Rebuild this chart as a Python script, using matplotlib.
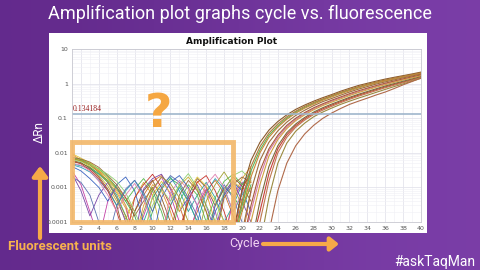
import matplotlib
matplotlib.use("Agg")
import matplotlib.pyplot as plt
from matplotlib.patches import Rectangle
from matplotlib.colors import LinearSegmentedColormap
import numpy as np

# cycles for the two groups of traces
base_cycles = list(range(1, 22))
amp_cycles = list(range(18, 41))

# baseline noise per well, cycles 1-21, in units of 1e-4 dRn (0.3 = below the axis)
noise = [
    [90, 62, 45, 28, 15, 7, 2.5, 0.3, 3, 12, 8, 2, 0.3, 4, 15, 7, 1, 0.3, 5, 18, 40],
    [70, 58, 40, 22, 11, 4, 1.2, 5, 14, 6, 0.5, 3, 11, 20, 9, 2, 0.3, 6, 15, 9, 25],
    [55, 50, 38, 25, 16, 9, 4, 1.5, 0.3, 2, 9, 18, 12, 4, 1, 0.3, 3, 10, 6, 2, 12],
    [65, 60, 48, 30, 18, 10, 5, 2, 6, 15, 22, 10, 3, 0.5, 2, 8, 16, 7, 1.5, 0.3, 8],
    [48, 42, 35, 24, 14, 6, 1.5, 0.3, 1, 5, 12, 20, 8, 2, 6, 14, 5, 1, 3, 12, 30],
    [60, 52, 36, 20, 9, 3, 0.3, 2, 8, 16, 5, 1, 0.3, 6, 18, 10, 3, 9, 20, 11, 4],
    [30, 12, 2, 0.3, 4, 10, 3, 0.3, 1.5, 8, 20, 6, 1, 0.3, 3, 9, 2, 0.3, 4, 14, 7],
    [25, 8, 1.5, 6, 14, 5, 1, 0.3, 9, 18, 24, 9, 2, 5, 12, 3, 0.5, 7, 16, 4, 1],
    [40, 30, 18, 10, 4, 12, 20, 8, 1, 0.3, 5, 14, 22, 10, 3, 0.3, 2, 6, 14, 8, 2],
    [72, 64, 50, 34, 20, 10, 4, 9, 18, 8, 2, 0.3, 4, 12, 6, 1, 5, 15, 24, 12, 20],
    [95, 70, 52, 32, 18, 8, 3, 1, 0.3, 6, 15, 7, 2, 8, 20, 11, 4, 1, 0.3, 4, 15],
    [45, 38, 28, 16, 8, 3, 8, 16, 6, 1, 0.3, 3, 10, 4, 1, 7, 18, 9, 2, 6, 18],
    [58, 48, 32, 18, 8, 2, 0.3, 5, 12, 24, 10, 3, 0.6, 4, 14, 22, 8, 2, 0.3, 9, 28],
    [75, 66, 54, 38, 22, 12, 5, 1.5, 4, 10, 3, 0.5, 6, 16, 8, 2, 0.3, 5, 12, 20, 14],
    [62, 56, 46, 34, 24, 15, 7, 2, 0.5, 3, 9, 4, 12, 25, 10, 3, 1, 8, 22, 30, 16],
    [20, 14, 6, 1, 0.3, 3, 9, 16, 7, 2, 10, 22, 14, 5, 1.5, 0.3, 3, 12, 5, 1, 0.3],
    [50, 44, 30, 15, 6, 2, 6, 13, 5, 0.8, 0.3, 7, 16, 9, 3, 12, 24, 10, 2, 7, 20],
    [68, 60, 44, 27, 14, 5, 1.5, 0.3, 2, 9, 20, 13, 5, 1, 0.3, 4, 12, 28, 11, 3, 10],
]
noise_colors = ["#e39a2d", "#c9b22c", "#3fae4a", "#d06a2a", "#2fa3a0", "#8a5a2c",
                "#c23fa6", "#7a44a8", "#3a64c0", "#56b84a", "#e0c43a", "#2c9fb8",
                "#c8332c", "#9a6a34", "#8fd070", "#5a6fb0", "#e080b0", "#a0a030"]

# amplification traces, cycles 18-40 (first three are the coloured ones underneath)
amp = [
    [0.00002, 0.00002, 0.0003, 0.003, 0.012, 0.032, 0.06, 0.1, 0.15, 0.205, 0.27, 0.345, 0.43, 0.535, 0.65, 0.78, 0.92, 1.07, 1.23, 1.4, 1.58, 1.78, 2.0],
    [0.00002, 0.00002, 0.00002, 0.0002, 0.002, 0.011, 0.028, 0.056, 0.092, 0.135, 0.187, 0.245, 0.31, 0.385, 0.48, 0.58, 0.7, 0.83, 0.98, 1.14, 1.32, 1.52, 1.73],
    [0.00002, 0.00002, 0.00002, 0.00002, 0.0002, 0.0025, 0.013, 0.033, 0.061, 0.096, 0.139, 0.185, 0.237, 0.3, 0.375, 0.46, 0.555, 0.67, 0.8, 0.95, 1.11, 1.3, 1.54],
    [0.00002, 0.00005, 0.0008, 0.006, 0.02, 0.045, 0.08, 0.125, 0.18, 0.24, 0.31, 0.39, 0.48, 0.6, 0.73, 0.88, 1.02, 1.18, 1.35, 1.52, 1.7, 1.9, 2.15],
    [0.00002, 0.00003, 0.0004, 0.004, 0.015, 0.037, 0.068, 0.11, 0.16, 0.22, 0.285, 0.36, 0.45, 0.56, 0.68, 0.82, 0.96, 1.11, 1.27, 1.44, 1.62, 1.82, 2.05],
    [0.00002, 0.00002, 0.0002, 0.002, 0.01, 0.028, 0.055, 0.093, 0.14, 0.195, 0.255, 0.33, 0.41, 0.51, 0.62, 0.75, 0.89, 1.04, 1.2, 1.36, 1.54, 1.74, 1.97],
    [0.00002, 0.00002, 0.00005, 0.0008, 0.006, 0.02, 0.043, 0.077, 0.12, 0.17, 0.23, 0.3, 0.37, 0.46, 0.57, 0.69, 0.82, 0.97, 1.12, 1.28, 1.46, 1.66, 1.88],
    [0.00002, 0.00002, 0.00002, 0.0003, 0.003, 0.013, 0.032, 0.062, 0.1, 0.145, 0.2, 0.26, 0.33, 0.41, 0.51, 0.62, 0.74, 0.88, 1.03, 1.19, 1.37, 1.57, 1.78],
    [0.00002, 0.00002, 0.00002, 0.0001, 0.0012, 0.008, 0.024, 0.05, 0.085, 0.125, 0.175, 0.23, 0.29, 0.36, 0.45, 0.55, 0.66, 0.79, 0.93, 1.09, 1.27, 1.46, 1.68],
    [0.00002, 0.00002, 0.00002, 0.00002, 0.0004, 0.004, 0.016, 0.038, 0.068, 0.105, 0.15, 0.2, 0.255, 0.32, 0.4, 0.49, 0.59, 0.71, 0.85, 1.0, 1.17, 1.36, 1.58],
    [0.00002, 0.00002, 0.00002, 0.00002, 0.0001, 0.0015, 0.01, 0.028, 0.055, 0.088, 0.128, 0.17, 0.22, 0.28, 0.35, 0.43, 0.52, 0.63, 0.76, 0.9, 1.06, 1.25, 1.5],
    [0.00002, 0.00002, 0.00002, 0.00002, 0.00002, 0.0005, 0.005, 0.019, 0.042, 0.072, 0.11, 0.15, 0.195, 0.25, 0.31, 0.38, 0.46, 0.56, 0.68, 0.82, 0.98, 1.18, 1.42],
    [0.00002, 0.00002, 0.00002, 0.00002, 0.00002, 0.00005, 0.0008, 0.005, 0.016, 0.035, 0.062, 0.098, 0.14, 0.19, 0.25, 0.31, 0.38, 0.47, 0.57, 0.72, 0.92, 1.15, 1.45],
]
amp_colors = ["#5cb85c", "#d47aa6", "#c8403a",
              "#8a5a2c", "#b07a3a", "#c98a3a", "#9c6e3c", "#a85a3a",
              "#d0a040", "#7c6a3a", "#c07850", "#9a8a40", "#b06a4a"]

threshold = 0.134184
yticks = [10, 1, 0.1, 0.01, 0.001, 0.0001]
ytick_labels = ["10", "1", "0.1", "0.01", "0.001", "0.0001"]
xticks = list(range(2, 41, 2))

W, H = 480, 270
fx = lambda px: px / W
fy = lambda py: 1 - py / H

fig = plt.figure(figsize=(4.8, 2.7), dpi=100)

# purple background
bg = fig.add_axes([0, 0, 1, 1], zorder=0)
grad = np.array([[0.0, 1.0], [0.0, 1.0]])
cmap = LinearSegmentedColormap.from_list("p", ["#632a8c", "#7b3ea8"])
bg.imshow(grad, cmap=cmap, aspect="auto", extent=[0, 1, 0, 1], interpolation="bicubic")
bg.set_xlim(0, 1)
bg.set_ylim(0, 1)
bg.axis("off")

# white panel
panel = fig.add_axes([fx(49), fy(233), fx(427) - fx(49), fy(33) - fy(233)], zorder=1)
panel.set_facecolor("white")
panel.set_xticks([])
panel.set_yticks([])
for s in panel.spines.values():
    s.set_visible(False)

ax = fig.add_axes([fx(72), fy(222), fx(421) - fx(72), fy(49) - fy(222)], zorder=2)
ax.set_yscale("log")
ax.set_xlim(1, 40)
ax.set_ylim(1e-4, 10)
ax.set_xticks(xticks)
ax.set_xticklabels([str(t) for t in xticks])
ax.set_yticks(yticks)
ax.set_yticklabels(ytick_labels)
ax.set_xticks(range(1, 41), minor=True)
ax.tick_params(which="both", length=0, labelsize=4.5, labelcolor="#555555", pad=3)
ax.tick_params(axis="y", which="minor", labelleft=False)
ax.grid(True, which="major", color="#e4e4ec", lw=0.6)
ax.grid(True, which="minor", color="#f0f0f5", lw=0.4)
ax.set_axisbelow(True)
for s in ax.spines.values():
    s.set_color("#c8c8d0")
    s.set_linewidth(0.6)

for vals, c in zip(noise, noise_colors):
    ax.plot(base_cycles, np.array(vals) * 1e-4, color=c, lw=0.6)
for vals, c in zip(amp, amp_colors):
    ax.plot(amp_cycles, vals, color=c, lw=0.8)

ax.axhline(threshold, color="#9fb6cc", lw=1.2)
ax.text(1.1, threshold * 1.06, "0.134184", color="#9a2020", fontsize=5.6,
        family="Liberation Serif", va="bottom", ha="left")

# orange highlight box
ax.add_patch(Rectangle((0, 0), 0.461, 0.462, transform=ax.transAxes, fill=False,
                       ec="#f2b769", lw=3.5, alpha=0.9, clip_on=False, zorder=5))
fig.text(fx(158), fy(114), "?", color="#f5a742", fontsize=34, fontweight="bold",
         ha="center", va="center", zorder=6)

fig.text(fx(232), fy(42), "Amplification Plot", fontsize=6.5, fontweight="bold",
         ha="center", va="center", color="#111111", zorder=6)

fig.text(0.5, fy(14), "Amplification plot graphs cycle vs. fluorescence", color="white",
         fontsize=13, family="Roboto", ha="center", va="center")
fig.text(fx(39), fy(132), "\u0394Rn", color="white", fontsize=8.5, family="Roboto",
         rotation=90, ha="center", va="center")
fig.text(fx(8), fy(246), "Fluorescent units", color="#f7b24e", fontsize=9.5,
         family="Roboto", fontweight="bold", ha="left", va="center")
fig.text(fx(245), fy(244), "Cycle", color="#f2d4f2", fontsize=9, family="Roboto",
         ha="center", va="center")
fig.text(fx(435), fy(262), "#askTaqMan", color="white", fontsize=10, family="Roboto",
         ha="center", va="center")

bg.annotate("", xy=(fx(40), fy(166)), xytext=(fx(40), fy(238)), xycoords="figure fraction",
            arrowprops=dict(arrowstyle="-|>,head_width=0.45,head_length=0.6", lw=3,
                            color="#f6a948", shrinkA=0, shrinkB=0))
bg.annotate("", xy=(fx(339), fy(244)), xytext=(fx(263), fy(244)), xycoords="figure fraction",
            arrowprops=dict(arrowstyle="-|>,head_width=0.4,head_length=0.5", lw=3,
                            color="#f6a948", shrinkA=0, shrinkB=0))

fig.savefig("out.png", dpi=100)
